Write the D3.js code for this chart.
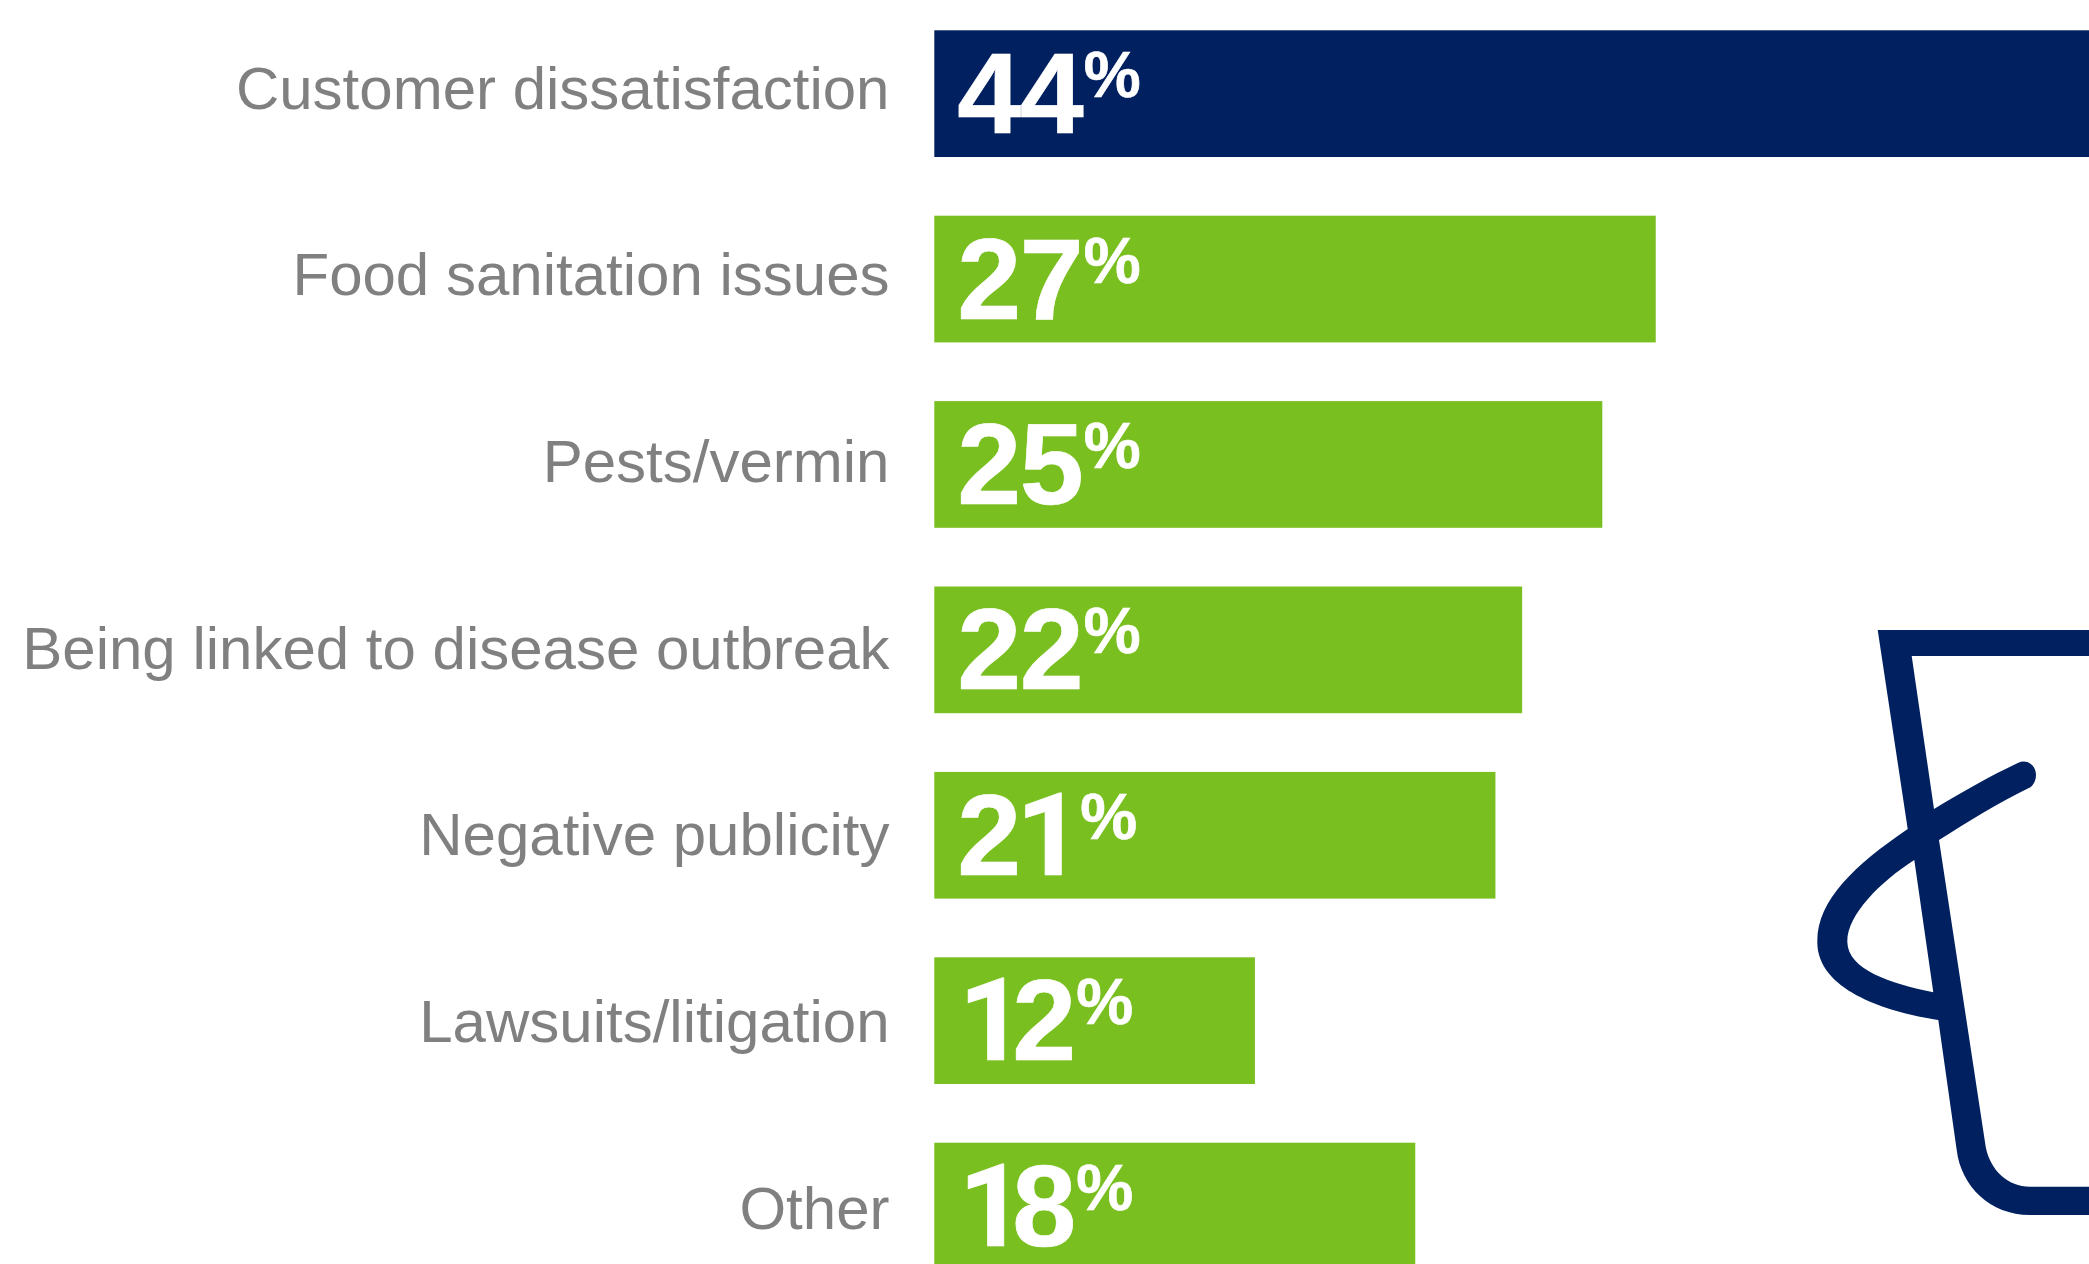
<!DOCTYPE html>
<html>
<head>
<meta charset="utf-8">
<title>Consequences</title>
<script src="https://cdn.jsdelivr.net/npm/d3@7/dist/d3.min.js"></script>
<style>
  html, body { margin: 0; padding: 0; background: #fff; overflow: hidden; }
  svg { display: block; font-family: "Liberation Sans", Arial, sans-serif; }
</style>
</head>
<body>
<div id="chart"></div>
<script>
const categories = [
  "Customer dissatisfaction",
  "Food sanitation issues",
  "Pests/vermin",
  "Being linked to disease outbreak",
  "Negative publicity",
  "Lawsuits/litigation",
  "Other"
];
const percentages = [44, 27, 25, 22, 21, 12, 18];
const highlighted = ["Customer dissatisfaction"];

const width = 2089, height = 1264;
const NAVY = "#002060", GREEN = "#7ABF20", GREY = "#808080";

const svg = d3.select("#chart").append("svg")
  .attr("width", width).attr("height", height)
  .attr("viewBox", [0, 0, width, height]);

const x = d3.scaleLinear().domain([0, 1]).range([934.3, 934.3 + 26.72]);
const y = d3.scaleBand().domain(categories).range([30.3, 1269.4]).paddingInner(0.3166).paddingOuter(0);
// Category labels sit on a slightly wider pitch than the bars
const labelY = d3.scalePoint().domain(categories).range([108, 1228]);

// Bars, one per category
svg.append("g").selectAll("rect")
  .data(categories)
  .join("rect")
  .attr("x", x(0))
  .attr("y", d => y(d))
  .attr("width", (d, i) => x(percentages[i]) - x(0))
  .attr("height", y.bandwidth())
  .attr("fill", d => highlighted.includes(d) ? NAVY : GREEN);

// Category labels via a left axis with its line and ticks hidden
const axis = svg.append("g")
  .attr("transform", "translate(889.5,0)")
  .call(d3.axisLeft(labelY).tickSize(0).tickPadding(0));
axis.select(".domain").remove();
axis.selectAll("text")
  .attr("dy", null)
  .attr("font-family", "'Liberation Sans', Arial, sans-serif")
  .attr("font-size", 60)
  .attr("fill", GREY);

// Spacing between neighbouring glyphs of a value label
function glyphGap(prev, next) {
  if (prev === "1") return next === "%" ? -2 : -12.5;
  if (next === "1") return -5;
  if (next === "%") return 0;
  return -1.5;
}

// Value labels: a large number with a raised percent sign.
// The digit 1 comes from Roboto because the bold Liberation glyph has a foot serif.
const values = svg.append("g").selectAll("text")
  .data(categories)
  .join("text")
  .attr("x", d => x(0) + 23)
  .attr("y", d => y(d) + 103)
  .attr("fill", "#fff")
  .attr("stroke", "#fff")
  .attr("stroke-width", 0.7)
  .attr("font-weight", "bold");

values.each(function (d, i) {
  const digits = String(percentages[i]).split("");
  const label = d3.select(this);
  digits.forEach((digit, k) => {
    const tspan = label.append("tspan")
      .attr("font-size", 115)
      .text(digit);
    if (digit === "1") tspan.attr("font-family", "Roboto");
    if (k > 0) tspan.attr("dx", glyphGap(digits[k - 1], digit));
    else if (digit === "1") tspan.attr("dx", 1.5);
  });
  label.append("tspan")
    .attr("font-size", 64)
    .attr("dy", -36)
    .attr("dx", glyphGap(digits[digits.length - 1], "%"))
    .text("%");
});

// Bucket outline running off the right edge
svg.append("path")
  .attr("fill", NAVY)
  .attr("fill-rule", "evenodd")
  .attr("d", "M1877.7,630 H2089 V656 H1911.7 L1934,809 " +
    "C1960,793 1990,776 2018.3,762.7 C2027,759 2036,765 2036,775 C2036,781 2033,786 2028.3,788.3 " +
    "C1998,803 1968,822 1939,840 L1985.7,1146.7 C1990,1170 2008,1186.7 2030,1186.7 H2089 V1215 H2030 " +
    "C1990,1215 1961,1186 1956.7,1150 L1938.3,1020 C1900,1014 1817,995 1817.3,941.7 C1817,900 1855,865 1907.7,829 Z " +
    "M1914.3,860 C1880,882 1847,915 1847.3,941.7 C1848,970 1890,983 1933.3,992.3 Z");
</script>
</body>
</html>
